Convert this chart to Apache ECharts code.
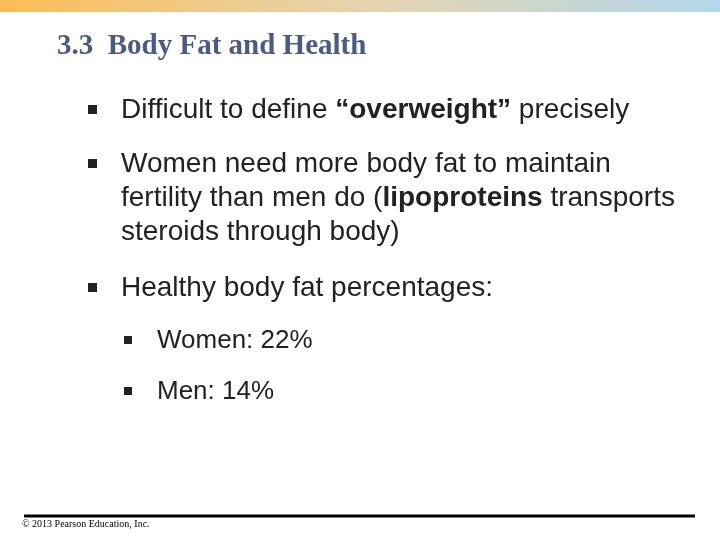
<!DOCTYPE html>
<html><head><meta charset="utf-8">
<script src="https://cdn.jsdelivr.net/npm/echarts@6/dist/echarts.min.js"></script>
<style>html,body{margin:0;padding:0;background:#fff}#c{width:720px;height:540px}</style>
</head><body><div id="c"></div>
<script>
const title = "3.3  Body Fat and Health";
const groups = ["Women", "Men"];
const healthyFat = [22, 14];
const bullets = [
  {y: 110, lines: ["Difficult to define {b|“overweight”} precisely"]},
  {y: 164, lines: ["Women need more body fat to maintain", "fertility than men do ({b|lipoproteins} transports", "steroids through body)"]},
  {y: 288, lines: ["Healthy body fat percentages:"]}
];
const subY = [341, 392];
const footer = "© 2013 Pearson Education, Inc.";

const chart = echarts.init(document.getElementById('c'));
const els = [
  {type:'rect', shape:{x:0,y:0,width:720,height:12}, style:{fill:new echarts.graphic.LinearGradient(0,0,1,0,[{offset:0,color:'#fbbd55'},{offset:0.5,color:'#e6d4ae'},{offset:1,color:'#b3d7ec'}])}},
  {type:'text', x:57, y:47, style:{text:title, font:'bold 29px "Liberation Serif"', fill:'#4a5a80', verticalAlign:'middle'}},
  {type:'rect', shape:{x:24,y:514.5,width:671,height:3}, style:{fill:'#000'}},
  {type:'text', x:22, y:524, style:{text:footer, font:'10px "Liberation Serif"', fill:'#000', verticalAlign:'middle'}}
];
const rich = {b:{fontWeight:'bold', fontSize:28, fontFamily:'Liberation Sans', fill:'#222'}};
bullets.forEach(b => {
  els.push({type:'rect', shape:{x:88,y:b.y-5,width:9,height:9}, style:{fill:'#222'}});
  b.lines.forEach((ln,i) => els.push({type:'text', x:121, y:b.y+i*34, style:{text:ln, rich, font:'28px "Liberation Sans"', fill:'#222', verticalAlign:'middle'}}));
});
groups.forEach((g,i) => {
  els.push({type:'rect', shape:{x:124,y:subY[i]-5,width:8,height:8}, style:{fill:'#222'}});
  els.push({type:'text', x:157, y:subY[i], style:{text:g+': '+healthyFat[i]+'%', font:'26px "Liberation Sans"', fill:'#222', verticalAlign:'middle'}});
});
chart.setOption({animation:false, graphic:{elements:els}});
</script></body></html>
